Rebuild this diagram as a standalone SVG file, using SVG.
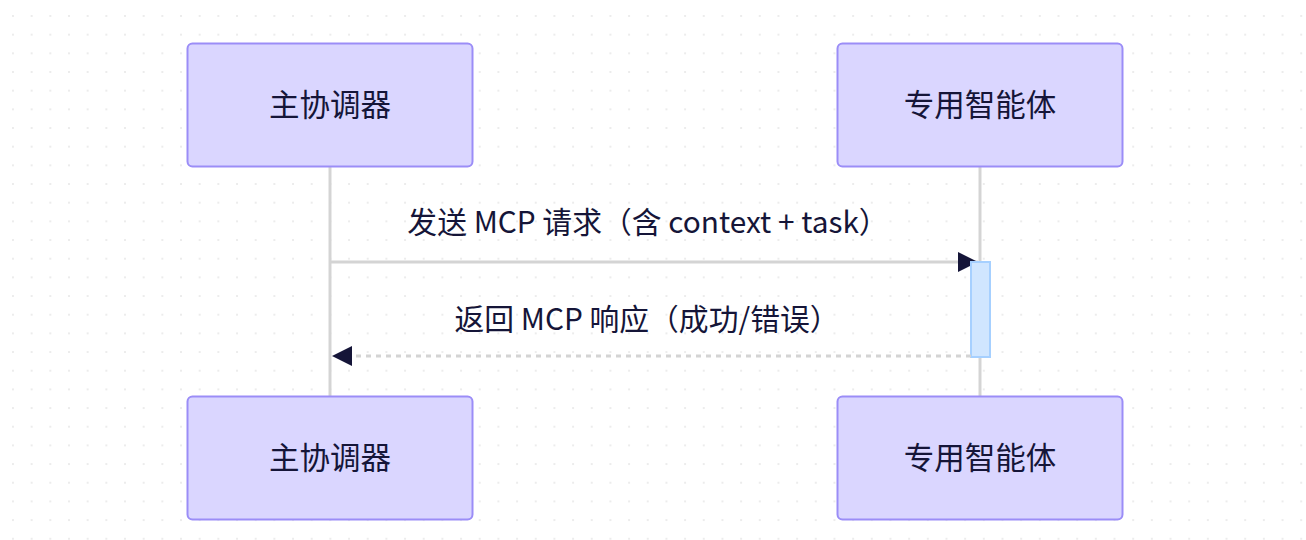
<svg xmlns="http://www.w3.org/2000/svg" width="1306" height="540" viewBox="0 0 1306 540">
<defs>
<pattern id="dots" x="12" y="15" width="18.67" height="18.67" patternUnits="userSpaceOnUse">
<rect x="0" y="0" width="2" height="2" fill="#ececec"/>
</pattern>
<marker id="arrowBig" viewBox="0 0 20 20" refX="20" refY="10" markerWidth="20" markerHeight="20" markerUnits="userSpaceOnUse" orient="auto">
<path d="M0,0 L20,10 L0,20 z" fill="#151538"/>
</marker>
</defs>
<style>
.actor{fill:#dad6ff;stroke:#9b8df7;stroke-width:2}
.atext{font-family:"Noto Sans CJK SC","Noto Sans",sans-serif;font-size:30.5px;fill:#151538;text-anchor:middle;dominant-baseline:central}
.mtext{font-family:"Noto Sans CJK SC","Noto Sans",sans-serif;font-size:29.8px;fill:#151538;text-anchor:middle;dominant-baseline:central}
.life{stroke:#d4d4d4;stroke-width:3;fill:none}
.msg{stroke:#d4d4d4;stroke-width:3;fill:none}
.dash{stroke-dasharray:5,5}
.act{fill:#d0e6ff;stroke:#a6d0ff;stroke-width:2}
</style>
<rect width="1306" height="540" fill="#ffffff"/>
<rect width="1306" height="540" fill="url(#dots)"/>
<g id="connectors">
<line class="life" x1="330" y1="167" x2="330" y2="396"/>
<line class="life" x1="980" y1="167" x2="980" y2="396"/>
<line class="msg" x1="330" y1="262" x2="978" y2="262" marker-end="url(#arrowBig)"/>
<rect id="activation" class="act" x="971" y="262" width="19" height="95"/>
<line class="msg dash" x1="971" y1="356" x2="332" y2="356" marker-end="url(#arrowBig)"/>
<text class="mtext" x="648" y="220">发送 MCP 请求（含 context + task）</text>
<text class="mtext" x="647" y="317">返回 MCP 响应（成功/错误）</text>
</g>
<g id="actor-main-top"><rect class="actor" x="187.5" y="43.5" width="285" height="123" rx="5"/><text class="atext" x="330" y="103">主协调器</text></g>
<g id="actor-agent-top"><rect class="actor" x="837.5" y="43.5" width="285" height="123" rx="5"/><text class="atext" x="980" y="103">专用智能体</text></g>
<g id="actor-main-bottom"><rect class="actor" x="187.5" y="396.5" width="285" height="123" rx="5"/><text class="atext" x="330" y="456">主协调器</text></g>
<g id="actor-agent-bottom"><rect class="actor" x="837.5" y="396.5" width="285" height="123" rx="5"/><text class="atext" x="980" y="456">专用智能体</text></g>
</svg>
